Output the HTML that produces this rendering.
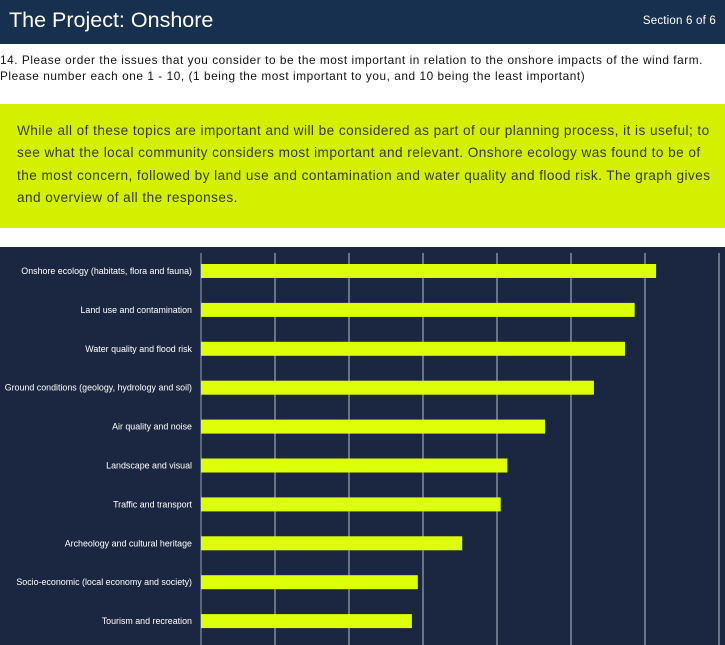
<!DOCTYPE html>
<html><head><meta charset="utf-8"><style>
body{margin:0;width:725px;height:645px;overflow:hidden;background:#fff;font-family:"Liberation Sans",sans-serif;position:relative}
#hdr{position:absolute;left:0;top:0;width:725px;height:44px;background:#17304f;color:#fff}
#title{position:absolute;left:9px;top:8px;font-size:21.5px}
#sec{position:absolute;right:9px;top:15px;font-size:11.5px;letter-spacing:0.2px}
#q{position:absolute;left:0;top:52px;font-size:11.8px;line-height:16px;color:#111;white-space:nowrap;letter-spacing:0.56px}
#box{position:absolute;left:0;top:104px;width:725px;height:124px;background:#d4f000}
#box p{margin:0;position:absolute;left:17px;top:16px;width:708px;font-size:13.6px;line-height:22.3px;color:#3a3a2a;letter-spacing:0.45px}
#chart{position:absolute;left:0;top:247px}
</style></head><body>
<div id="hdr">
<div id="title">The Project: Onshore</div>
<div id="sec">Section 6 of 6</div>
</div>
<div id="q">14. Please order the issues that you consider to be the most important in relation to the onshore impacts of the wind farm.<br>Please number each one 1 - 10, (1 being the most important to you, and 10 being the least important)</div>
<div id="box"><p>While all of these topics are important and will be considered as part of our planning process, it is useful; to<br>see what the local community considers most important and relevant. Onshore ecology was found to be of<br>the most concern, followed by land use and contamination and water quality and flood risk. The graph gives<br>and overview of all the responses.</p></div>
<svg id="chart" width="725" height="398"></svg>
<script>
const categories=["Onshore ecology (habitats, flora and fauna)","Land use and contamination","Water quality and flood risk","Ground conditions (geology, hydrology and soil)","Air quality and noise","Landscape and visual","Traffic and transport","Archeology and cultural heritage","Socio-economic (local economy and society)","Tourism and recreation"];
const values=[6.15,5.86,5.73,5.31,4.65,4.14,4.05,3.53,2.93,2.85];
const ticks=[0,1,2,3,4,5,6,7];
const svg=document.getElementById('chart');
const NS='http://www.w3.org/2000/svg';
const x0=201,x1=719,xmax=7;
const xs=v=>x0+(v/xmax)*(x1-x0);
const yc=i=>24+i*38.9;
function mk(t,a){const e=document.createElementNS(NS,t);for(const k in a)e.setAttribute(k,a[k]);svg.appendChild(e);return e;}
const bg=mk('rect',{x:0,y:0,width:725,height:398,fill:'#1b2741'});


ticks.forEach(t=>{const l=mk('line',{x1:xs(t),x2:xs(t),y1:6,y2:398,stroke:t===0?'#9aa3b3':'#b8bec9','stroke-width':1});

});
categories.forEach((c,i)=>{
const r=mk('rect',{x:x0,y:yc(i)-7,width:xs(values[i])-x0,height:14,fill:'#deff0a'});


const t=mk('text',{x:192,y:yc(i)+3,'text-anchor':'end','font-size':8.9,fill:'#fff','font-family':'Liberation Sans, sans-serif'});
t.textContent=c;


});
</script>
</body></html>
